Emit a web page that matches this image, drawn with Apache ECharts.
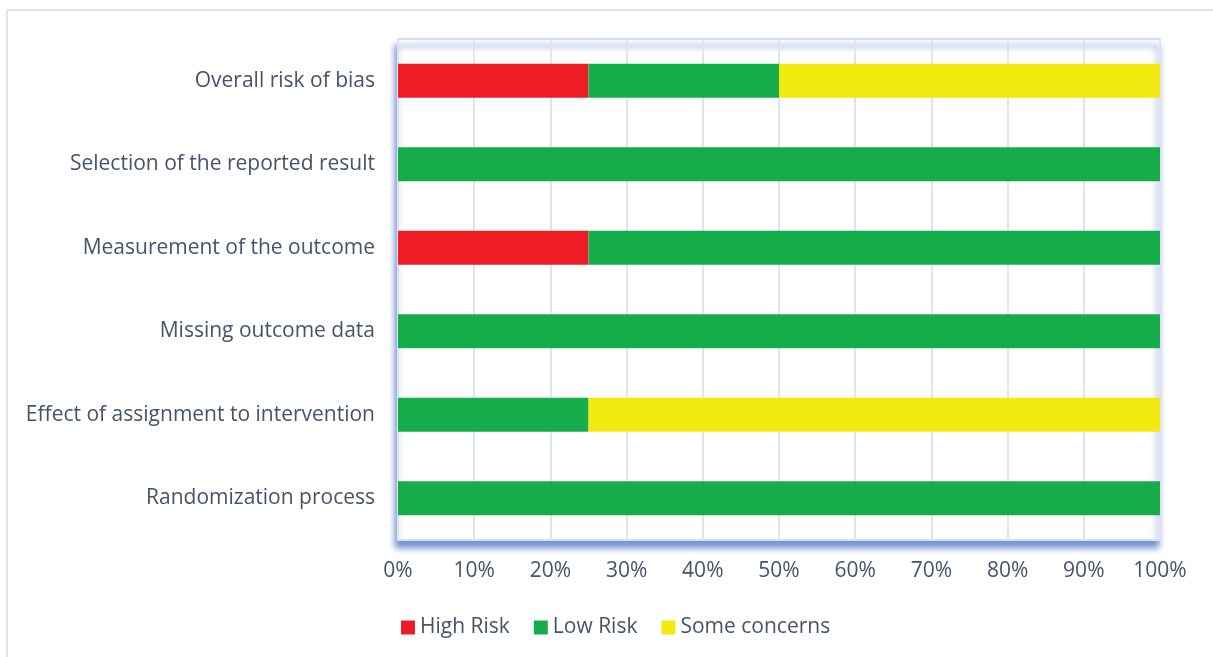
<!DOCTYPE html>
<html><head><meta charset="utf-8">
<script src="https://cdn.jsdelivr.net/npm/echarts@6/dist/echarts.min.js"></script>
<style>html,body{margin:0;padding:0;background:#fff}#c{width:1213px;height:657px}</style>
</head><body><div id="c"></div>
<script>
const categories = ['Randomization process','Effect of assignment to intervention','Missing outcome data','Measurement of the outcome','Selection of the reported result','Overall risk of bias'];
const highRisk = [0, 0, 0, 25, 0, 25];
const lowRisk = [100, 25, 100, 75, 100, 25];
const someConcerns = [0, 75, 0, 0, 0, 50];
const xTicks = [0,10,20,30,40,50,60,70,80,90,100];

const font = 'Open Sans';
const fs = 21;
const textColor = '#44546a';
const chart = echarts.init(document.getElementById('c'));
chart.setOption({
  animation: false,
  textStyle: {fontFamily: font},
  graphic: [{type:'rect', z:-10, shape:{x:7,y:10,width:1400,height:800}, style:{fill:'none', stroke:'#dde4ee', lineWidth:2}}],
  grid: {left:398, right:53, top:39, bottom:117, show:true, backgroundColor:'#fff', borderColor:'#d6dff0', borderWidth:2,
         shadowColor:'rgba(60,100,190,0.7)', shadowBlur:6, shadowOffsetX:-2, shadowOffsetY:7},
  legend: {top:612, left:396, itemWidth:14, itemHeight:14, itemGap:24, itemTextGap:6, icon:'rect',
    textStyle:{fontFamily:font, fontSize:fs, color:textColor}, data:['High Risk','Low Risk','Some concerns']},
  xAxis: {type:'value', min:xTicks[0], max:xTicks[xTicks.length-1], interval:10,
    axisLine:{show:false}, axisTick:{show:false},
    axisLabel:{formatter:'{value}%', fontFamily:font, fontSize:fs, color:textColor, margin:21},
    splitLine:{lineStyle:{color:'#dfe5ef', width:2}}},
  yAxis: {type:'category', data:categories, axisLine:{show:false}, axisTick:{show:false},
    axisLabel:{fontFamily:font, fontSize:fs, color:textColor, margin:23, padding:[4,0,0,0]}},
  series: [
    {name:'High Risk', type:'bar', stack:'s', data:highRisk, barWidth:'41%', itemStyle:{color:'#ee1d25'}},
    {name:'Low Risk', type:'bar', stack:'s', data:lowRisk, barWidth:'41%', itemStyle:{color:'#15ad4c'}},
    {name:'Some concerns', type:'bar', stack:'s', data:someConcerns, barWidth:'41%', itemStyle:{color:'#f2e90f'}}
  ]
});
</script></body></html>
